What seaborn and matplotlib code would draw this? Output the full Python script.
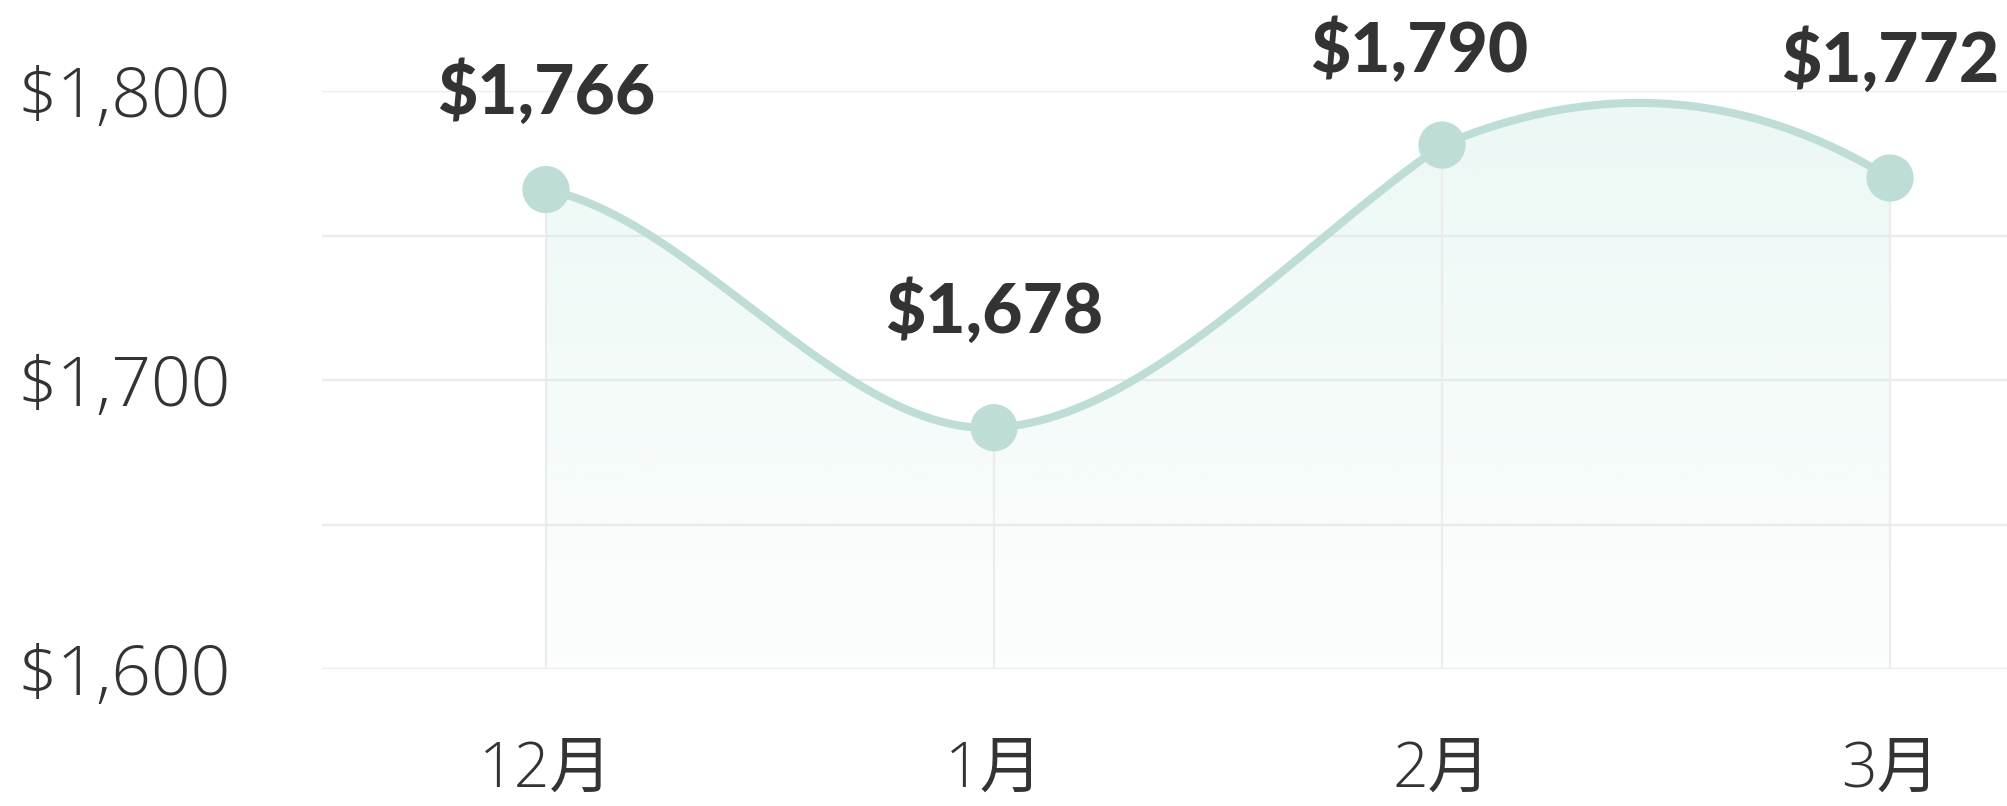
import numpy as np
import pandas as pd
import matplotlib
matplotlib.use("Agg")
import matplotlib.pyplot as plt
from matplotlib.colors import to_rgb
import seaborn as sns

# data
months = ["12月", "1月", "2月", "3月"]
price_labels = [1766, 1678, 1790, 1772]          # values printed above the markers
price_points = [1766, 1683.6, 1781.4, 1770.0]    # where the markers actually sit
y_ticks = [1600, 1700, 1800]
y_minor = [1650, 1750]

sns.set_style("white")
plt.rcParams["font.family"] = ["Open Sans", "Noto Sans CJK SC", "DejaVu Sans"]

LINE = "#bfddd7"
FILL = "#c6ebe2"
TEXT = "#333333"
GRID = "#ececec"

# spline tangents (price per month) leaving / entering each point
tan_out = [-31, 7.5, 65]
tan_in = [7.5, 108, -95]

# cubic hermite curve through the points
xs, ys = [], []
t = np.linspace(0, 1, 100)
h00 = 2 * t**3 - 3 * t**2 + 1
h10 = t**3 - 2 * t**2 + t
h01 = -2 * t**3 + 3 * t**2
h11 = t**3 - t**2
for i in range(len(months) - 1):
    seg = h00 * price_points[i] + h10 * tan_out[i] + h01 * price_points[i + 1] + h11 * tan_in[i]
    xs.extend(i + t)
    ys.extend(seg)
curve = pd.DataFrame({"x": xs, "price": ys})
points = pd.DataFrame({"x": range(len(months)), "price": price_points})

fig = plt.figure(figsize=(20.07, 8.06), dpi=100)
ax = fig.add_axes([0.1604, 0.1696, 0.8396, 0.7171])

# soft gradient under the curve
grad = np.zeros((256, 1, 4))
grad[..., :3] = to_rgb(FILL)
grad[..., 3] = np.linspace(0.34, 0.05, 256)[:, None]
im = ax.imshow(grad, extent=(0, len(months) - 1, 1600, 1800), aspect="auto",
               origin="upper", zorder=1, interpolation="bilinear")
poly = ax.fill_between(curve["x"], curve["price"], 1600, color="none", lw=0)
im.set_clip_path(poly.get_paths()[0], transform=ax.transData)

# drop lines from each marker
ax.vlines(points["x"], 1600, points["price"], color=GRID, lw=1.6, zorder=2)

sns.lineplot(data=curve, x="x", y="price", color=LINE, lw=5.8, ax=ax,
             estimator=None, sort=False, zorder=3)
sns.scatterplot(data=points, x="x", y="price", s=34**2, color=LINE,
                edgecolor="none", linewidth=0, ax=ax, zorder=4, clip_on=False)

ax.set_xlim(-0.5, 3.261)
ax.set_ylim(1600, 1800)

ax.set_yticks(y_ticks, [f"${v:,}" for v in y_ticks], fontsize=50,
              fontweight="light", color=TEXT)
ax.set_yticks(y_minor, minor=True)
ax.set_xticks(range(len(months)), months, fontsize=45, fontweight="light",
              color=TEXT)
ax.tick_params(axis="both", which="both", length=0)
ax.tick_params(axis="y", pad=65.5)
ax.tick_params(axis="x", pad=50)
ax.grid(False)
ax.grid(axis="y", which="both", color=GRID, lw=1.6, zorder=0)
ax.set_axisbelow(True)
for s in ax.spines.values():
    s.set_visible(False)
ax.set_xlabel("")
ax.set_ylabel("")

# value labels above the markers
dx = [0, 0, -23, 0]
dy = [76, 95, 73, 96]
for i, v in enumerate(price_labels):
    ax.annotate(f"${v:,}", (i, price_points[i]), xytext=(dx[i], dy[i]),
                textcoords="offset pixels", ha="center", va="baseline",
                fontsize=50, fontweight="black", family=["Lato", "DejaVu Sans"],
                color=TEXT, annotation_clip=False, zorder=5)

fig.savefig("out.png", dpi=100)
